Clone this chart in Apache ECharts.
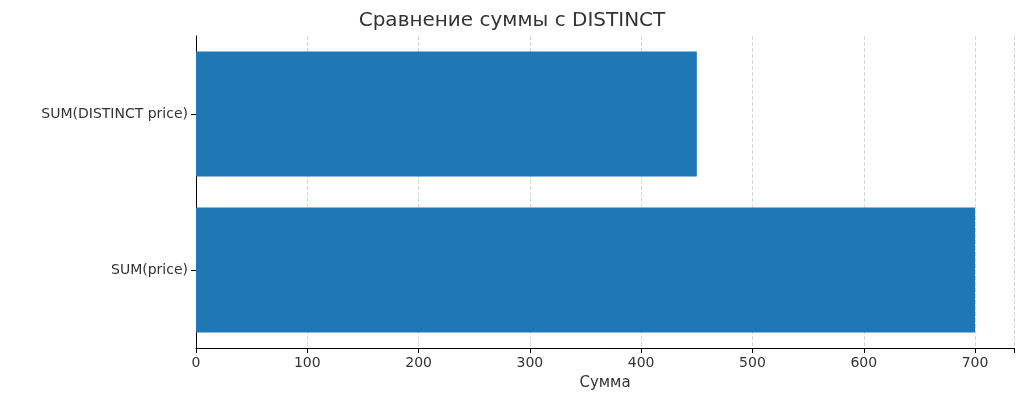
<!DOCTYPE html>
<html><head><meta charset="utf-8">
<script src="https://cdn.jsdelivr.net/npm/echarts@6/dist/echarts.min.js"></script>
<style>html,body{margin:0;background:#fff}#c{width:1024px;height:404px}</style>
</head><body><div id="c"></div>
<script>
const categories = ['SUM(price)', 'SUM(DISTINCT price)'];
const values = [700, 450];
const xTicks = [0, 100, 200, 300, 400, 500, 600, 700];
const chart = echarts.init(document.getElementById('c'));
chart.setOption({
  animation: false,
  title: {text: 'Сравнение суммы с DISTINCT', left: 'center', top: 6,
    textStyle: {fontFamily: 'DejaVu Sans', fontSize: 20, fontWeight: 'normal', color: '#333'}},
  grid: {left: 196, right: 10, top: 36, bottom: 56},
  xAxis: {type: 'value', min: 0, max: 735, interval: 100,
    name: 'Сумма', nameLocation: 'middle', nameGap: 28,
    nameTextStyle: {fontFamily: 'DejaVu Sans', fontSize: 15, color: '#333'},
    axisLine: {show: true, lineStyle: {color: '#000'}},
    axisTick: {show: true, lineStyle: {color: '#000'}},
    axisLabel: {fontFamily: 'DejaVu Sans', fontSize: 14, color: '#333',
      formatter: v => xTicks.includes(v) ? String(v) : ''},
    splitLine: {show: true, lineStyle: {type: 'dashed', color: '#d8d8d8'}}},
  yAxis: {type: 'category', data: categories,
    axisLine: {show: true, lineStyle: {color: '#000'}},
    axisTick: {show: true, alignWithLabel: true, lineStyle: {color: '#000'}},
    axisLabel: {fontFamily: 'DejaVu Sans', fontSize: 14, color: '#333'},
    splitLine: {show: false}},
  series: [{type: 'bar', data: values, barCategoryGap: '20%', itemStyle: {color: '#1f77b4'}}]
});
</script></body></html>
